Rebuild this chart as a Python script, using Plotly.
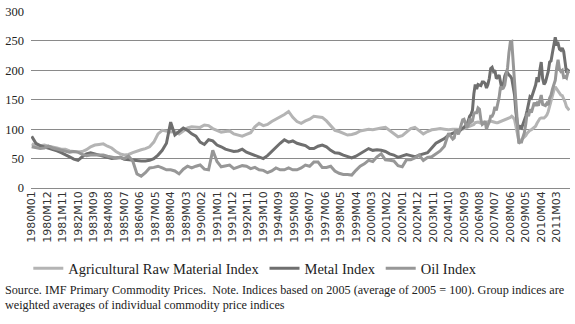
import plotly.graph_objects as go

# ---- categories -------------------------------------------------------
# quarterly readings 1980M01..2004M10, monthly readings 2005M01..2011M12
def label(i):
    return f"{1980 + i // 12}M{i % 12 + 1:02d}"

quarter_idx = list(range(0, 300, 3))
month_idx = list(range(300, 384))
x_idx = quarter_idx + month_idx
x_labels = [label(i) for i in x_idx]

tick_labels = ["1980M01", "1980M12", "1981M11", "1982M10", "1983M09", "1984M08",
               "1985M07", "1986M06", "1987M05", "1988M04", "1989M03", "1990M02",
               "1991M01", "1991M12", "1992M11", "1993M10", "1994M09", "1995M08",
               "1996M07", "1997M06", "1998M05", "1999M04", "2000M03", "2001M02",
               "2002M01", "2002M12", "2003M11", "2004M10", "2005M09", "2006M08",
               "2007M07", "2008M06", "2009M05", "2010M04", "2011M03"]

# ---- series values (Jan, Apr, Jul, Oct per year 1980-2004) -------------
ag_q = [75, 72, 72, 73,  71, 70, 68, 66,  66, 63, 62, 61,  62, 65, 70, 73,
        74, 75, 71, 68,  62, 58, 56, 57,  60, 63, 65, 67,  70, 78, 92, 98,
        97, 95, 96, 92,  97, 102, 104, 103,  103, 107, 106, 101,  98, 95, 96, 97,
        92, 90, 88, 91,  94, 104, 110, 106,  108, 113, 117, 120,  125, 130, 120, 113,
        110, 114, 117, 122,  121, 120, 114, 106,  98, 96, 93, 90,  91, 93, 97, 99,
        100, 99, 101, 102,  103, 98, 92, 87,  89, 95, 101, 103,  97, 92, 96, 99,
        100, 101, 100, 99]
metal_q = [88, 76, 72, 70,  68, 66, 63, 60,  57, 53, 49, 47,  53, 58, 60, 58,
           57, 55, 52, 50,  51, 52, 49, 48,  48, 47, 46, 46,  47, 50, 56, 64,
           76, 112, 90, 96,  102, 98, 92, 88,  78, 74, 82, 80,  73, 70, 66, 64,
           62, 63, 66, 61,  58, 56, 52, 50,  55, 62, 70, 76,  82, 78, 80, 76,
           74, 72, 67, 67,  71, 73, 70, 64,  60, 59, 56, 54,  51, 54, 58, 62,
           67, 64, 65, 64,  62, 58, 56, 52,  55, 57, 55, 53,  56, 58, 60, 68,
           76, 80, 84, 90]
oil_q = [70, 68, 67, 68,  71, 68, 66, 64,  62, 61, 62, 61,  57, 55, 56, 56,
         55, 56, 54, 53,  51, 52, 50, 54,  46, 24, 20, 26,  34, 35, 37, 34,
         31, 31, 29, 24,  32, 37, 34, 37,  39, 32, 31, 64,  45, 36, 37, 39,
         33, 36, 38, 37,  33, 35, 31, 30,  26, 29, 34, 31,  31, 34, 31, 31,
         34, 39, 37, 44,  44, 35, 35, 37,  29, 25, 23, 23,  22, 30, 37, 41,
         47, 45, 53, 58,  48, 47, 46, 38,  36, 48, 48, 51,  56, 47, 52, 53,
         58, 63, 71, 93]

# ---- monthly values 2005-2011 ------------------------------------------
ag_m = [100, 100, 101, 100, 99, 99, 100, 100, 101, 102, 102, 103,
        104, 105, 106, 108, 111, 112, 112, 111, 110, 109, 110, 111,
        112, 113, 113, 114, 113, 112, 112, 111, 111, 112, 113, 113,
        114, 116, 117, 118, 118, 120, 122, 120, 116, 104, 90, 81,
        80, 82, 84, 86, 89, 93, 96, 98, 99, 101, 103, 105,
        110, 114, 118, 119, 119, 119, 121, 124, 130, 140, 148, 158,
        166, 172, 168, 165, 160, 158, 157, 152, 146, 138, 134, 132]
metal_m = [92, 94, 96, 97, 96, 97, 100, 101, 103, 106, 108, 114,
           122, 125, 132, 160, 176, 168, 176, 175, 174, 180, 180, 178,
           170, 176, 186, 203, 205, 198, 200, 186, 188, 192, 176, 168,
           176, 190, 196, 196, 192, 190, 186, 172, 158, 128, 110, 102,
           104, 102, 108, 116, 122, 132, 142, 155, 153, 160, 166, 175,
           188, 180, 200, 214, 186, 176, 180, 190, 198, 214, 216, 230,
           244, 256, 245, 246, 236, 234, 238, 232, 214, 196, 200, 198]
oil_m = [83, 85, 97, 96, 91, 101, 106, 116, 117, 110, 103, 106,
         118, 112, 114, 126, 128, 128, 136, 134, 116, 108, 110, 114,
         100, 107, 112, 122, 122, 127, 138, 132, 143, 154, 172, 169,
         170, 175, 191, 204, 230, 248, 249, 212, 182, 134, 98, 76,
         78, 78, 87, 94, 109, 128, 122, 134, 128, 139, 145, 140,
         144, 140, 149, 158, 142, 141, 140, 144, 141, 153, 158, 168,
         174, 183, 204, 218, 202, 198, 200, 188, 189, 187, 197, 195]

series = [
    ("Agricultural Raw Material Index", ag_q + ag_m, "#b4b4b4"),
    ("Metal Index", metal_q + metal_m, "#6f6f6f"),
    ("Oil Index", oil_q + oil_m, "#979797"),
]

fig = go.Figure()
for name, vals, col in series:
    fig.add_trace(go.Scatter(
        x=x_idx, y=vals, name=name, mode="lines",
        customdata=x_labels,
        hovertemplate="%{customdata}: %{y}<extra>" + name + "</extra>",
        line=dict(color=col, width=3),
    ))

tick_vals = [i * 11 for i in range(len(tick_labels))]
PH = 324 - 5 - 136  # plot height in px


def ypos(px):
    """paper y for a pixel row below the plot area"""
    return -(px - (324 - 136)) / PH


fig.update_layout(
    width=575, height=324,
    margin=dict(l=28, r=5, t=5, b=136),
    paper_bgcolor="white", plot_bgcolor="white",
    showlegend=True,
    legend=dict(
        orientation="h", x=-0.005, y=ypos(271), xanchor="left", yanchor="middle",
        font=dict(family="Liberation Serif", size=14.5, color="#222"),
        itemwidth=30, tracegroupgap=0,
    ),
    xaxis=dict(
        range=[-0.5, 383.5], tickmode="array", tickvals=tick_vals,
        ticktext=tick_labels, tickangle=-90, showgrid=False, zeroline=False,
        showline=False, ticks="",
        tickfont=dict(family="DejaVu Sans", size=11, color="#333"),
    ),
    yaxis=dict(
        range=[0, 300.8], tickmode="array", tickvals=[0, 50, 100, 150, 200, 250, 300],
        showgrid=True, gridcolor="#8a8a8a", ticklabeloverflow="allow",
        gridwidth=1, zeroline=True, zerolinecolor="#8a8a8a", zerolinewidth=1,
        ticks="", ticklabelstandoff=6,
        tickfont=dict(family="Liberation Serif", size=12.5, color="#222"),
    ),
    annotations=[
        dict(text="Source. IMF Primary Commodity Prices.  Note. Indices based on 2005 (average of 2005 = 100). Group indices are",
             xref="paper", yref="paper", x=-28 / 542, y=ypos(293), xanchor="left",
             yanchor="middle", showarrow=False,
             font=dict(family="Liberation Serif", size=12.2, color="#222")),
        dict(text="weighted averages of individual commodity price indices",
             xref="paper", yref="paper", x=-28 / 542, y=ypos(308.5), xanchor="left",
             yanchor="middle", showarrow=False,
             font=dict(family="Liberation Serif", size=12.2, color="#222")),
    ],
)

fig.write_html("out.html")
